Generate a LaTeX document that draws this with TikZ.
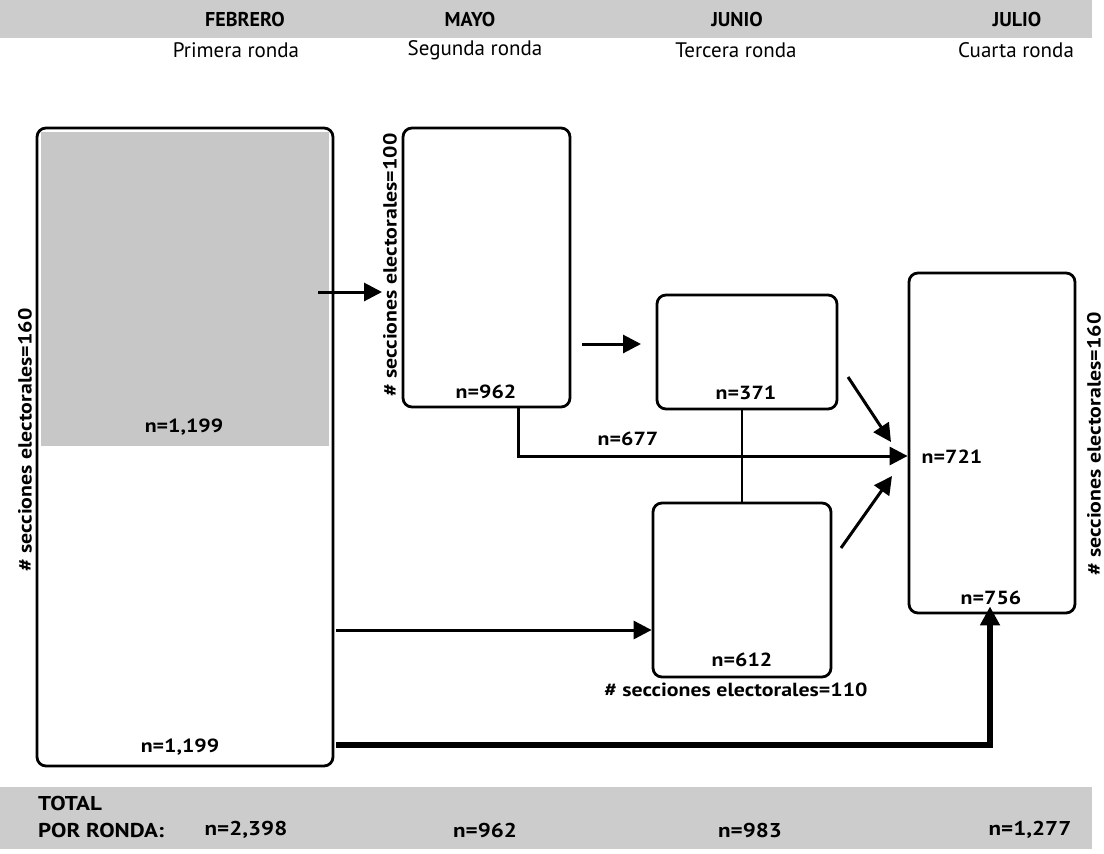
\documentclass[tikz,border=0pt]{standalone}
\usepackage{fontspec}
\setmainfont{PT Sans}
\newfontfamily\widebf{PT Sans}[FakeStretch=1.15]
\usetikzlibrary{arrows.meta}
\begin{document}
\begin{tikzpicture}[x=1pt,y=-1pt,
  box/.style={draw, line width=2.8pt, rounded corners=9pt, inner sep=0pt},
  lbl/.style={font=\widebf\fontsize{19}{21}\selectfont\bfseries, inner sep=0pt},
  hd/.style={font=\fontsize{20}{22}\selectfont\bfseries, inner sep=0pt},
  tot/.style={font=\widebf\fontsize{20}{22}\selectfont\bfseries, inner sep=0pt},
  sub/.style={font=\fontsize{21}{23}\selectfont, inner sep=0pt},
  arr/.style={line width=3pt, -{Triangle[length=18pt,width=18pt]}},
  thickarr/.style={line width=6pt, -{Triangle[length=19pt,width=19pt]}},
  band/.style={fill=black!20}
]
\useasboundingbox (0,0) rectangle (1104,854);
% header band
\fill[band] (0,0) rectangle (1092,38);
\node[hd] (h1) at (245,19) {FEBRERO};
\node[hd] (h2) at (470,19) {MAYO};
\node[hd] (h3) at (737,19) {JUNIO};
\node[hd] (h4) at (1017,19) {JULIO};
\node[sub] (s1) at (236,50) {Primera ronda};
\node[sub] (s2) at (475,50) {Segunda ronda};
\node[sub] (s3) at (736,50) {Tercera ronda};
\node[sub] (s4) at (1016,50) {Cuarta ronda};
% big box shading
\fill[black!22] (41,132) rectangle (329,446);
% boxes
\node[box, minimum width=296pt, minimum height=638pt] (b1) at (185,447) {};
\node[box, minimum width=167pt, minimum height=279pt] (b2) at (486.5,267.5) {};
\node[box, minimum width=180pt, minimum height=114pt] (b3) at (747,352) {};
\node[box, minimum width=178pt, minimum height=174pt] (b4) at (742,590) {};
\node[box, minimum width=166pt, minimum height=340pt] (b5) at (992,443) {};
% labels
\node[lbl, rotate=90] (l1) at (25,440) {\# secciones electorales=160};
\node[lbl, rotate=90] (l2) at (390,265) {\# secciones electorales=100};
\node[lbl, rotate=90] (l3) at (1094,444) {\# secciones electorales=160};
\node[lbl] (l4) at (736,690) {\# secciones electorales=110};
\node[lbl] (n1) at (184,427) {n=1,199};
\node[lbl] (n2) at (180,747) {n=1,199};
\node[lbl] (n3) at (486,392) {n=962};
\node[lbl] (n4) at (746,393) {n=371};
\node[lbl] (n5) at (742,660) {n=612};
\node[lbl] (n6) at (952,457) {n=721};
\node[lbl] (n7) at (991,598) {n=756};
\node[lbl] (n8) at (628,439) {n=677};
% connectors
\coordinate (a1s) at (318,292);
\coordinate (a1e) at (382,292);
\draw[arr] (a1s) -- (a1e);
\coordinate (a2s) at (582,344);
\coordinate (a2e) at (641,344);
\draw[arr] (a2s) -- (a2e);
\coordinate (a3s) at (336,630);
\draw[arr] (a3s) -- (a3s -| b4.west);
\coordinate (c1) at (518,456);
\draw[arr] (b2.south -| c1) -- (c1) -- (c1 -| b5.west);
\draw[line width=2.4pt] (b3.south -| b4.north) -- (b4.north);
\coordinate (d1s) at (848,377);
\coordinate (d1e) at (891,442);
\draw[arr] (d1s) -- (d1e);
\coordinate (d2s) at (841,548);
\coordinate (d2e) at (892,476);
\draw[arr] (d2s) -- (d2e);
\coordinate (t1) at (336,745);
\coordinate (t2) at (990,745);
\draw[thickarr] (t1) -- (t2) -- ([yshift=8pt]t2 |- b5.south);
% bottom band
\fill[band] (0,787) rectangle (1092,849);
\node[tot, anchor=west] (tt1) at (38,803) {TOTAL};
\node[tot, anchor=west] (tt2) at (38,830) {POR RONDA:};
\node[tot] (tn1) at (246,830) {n=2,398};
\node[tot] (tn2) at (485,830) {n=962};
\node[tot] (tn3) at (750,830) {n=983};
\node[tot] (tn4) at (1030,830) {n=1,277};
\end{tikzpicture}
\end{document}
